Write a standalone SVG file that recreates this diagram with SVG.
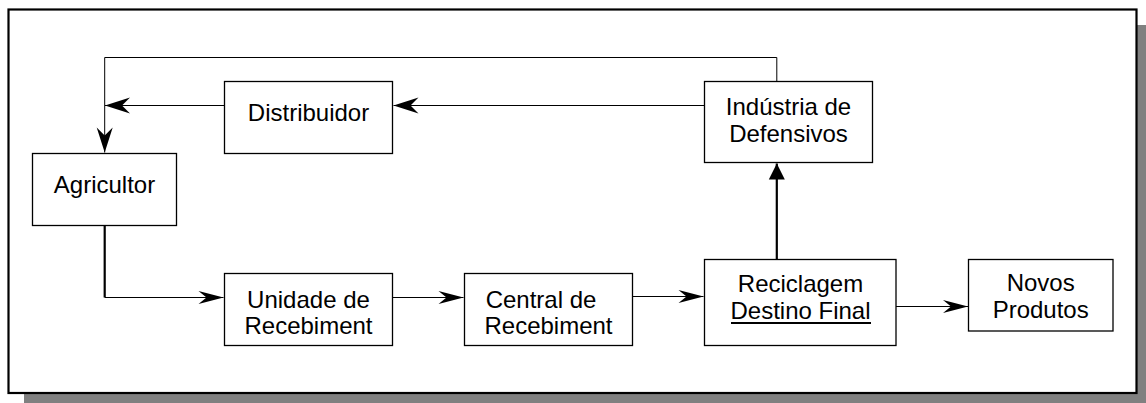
<svg xmlns="http://www.w3.org/2000/svg" width="1146" height="403" viewBox="0 0 1146 403">
<style>
.box{fill:#fff;stroke:#000;stroke-width:1.3}
.t{font-family:"Liberation Sans",Arial,sans-serif;font-size:24px;fill:#000;text-anchor:middle}
.c{fill:none;stroke:#000;stroke-width:1}
.ck{fill:none;stroke:#000;stroke-width:2.2}
</style>
<defs>
<marker id="barbL" markerUnits="userSpaceOnUse" markerWidth="28" markerHeight="20" viewBox="-27 -10 28 20" refX="0" refY="0" orient="auto">
<path d="M0,0 L-25,-8 L-17,0 L-25,8 Z" fill="#000"/>
</marker>
<marker id="barbS" markerUnits="userSpaceOnUse" markerWidth="28" markerHeight="20" viewBox="-27 -10 28 20" refX="0" refY="0" orient="auto">
<path d="M0,0 L-25,-6.5 L-17,0 L-25,6.5 Z" fill="#000"/>
</marker>
<marker id="tri" markerUnits="userSpaceOnUse" markerWidth="20" markerHeight="20" viewBox="-18 -10 20 20" refX="0" refY="0" orient="auto">
<path d="M0,0 L-16,-8 L-16,8 Z" fill="#000"/>
</marker>
</defs>
<g id="frame">
<rect x="24" y="25" width="1122" height="378" fill="#808080"/>
<rect x="8.5" y="9.5" width="1128" height="383.5" fill="#fff" stroke="#000" stroke-width="2.2"/>
</g>
<g id="connectors">
<path class="ck" d="M104.7,225 V297.5"/>
<path class="c" d="M104.7,297.5 H223.5" marker-end="url(#barbS)"/>
<path class="c" d="M393,297.5 H463.5" marker-end="url(#barbS)"/>
<path class="c" d="M632,296.5 H703.5" marker-end="url(#barbS)"/>
<path class="c" d="M896,306.5 H968" marker-end="url(#barbS)"/>
<path class="ck" d="M776.8,259 V163.5" marker-end="url(#tri)"/>
<path class="c" d="M704,105.5 H393.5" marker-end="url(#barbL)"/>
<path class="c" d="M224,105.5 H105" marker-end="url(#barbL)"/>
<path class="c" d="M776.8,81 V57.5 H104.7 V152.5" marker-end="url(#barbL)"/>
</g>
<g id="distribuidor">
<rect class="box" x="224.5" y="81.5" width="168" height="72"/>
<text class="t" x="308.5" y="120.5">Distribuidor</text>
</g>
<g id="agricultor">
<rect class="box" x="32.5" y="153.5" width="144" height="72"/>
<text class="t" x="104.5" y="193.3">Agricultor</text>
</g>
<g id="industria">
<rect class="box" x="704.5" y="81.5" width="168" height="81"/>
<text class="t" x="788.5" y="115">Indústria de</text>
<text class="t" x="788.5" y="141.5">Defensivos</text>
</g>
<g id="unidade">
<rect class="box" x="224.5" y="273.5" width="168" height="72"/>
<text class="t" x="308.5" y="307.5">Unidade de</text>
<text class="t" x="308.5" y="334">Recebiment</text>
</g>
<g id="central">
<rect class="box" x="464.5" y="273.5" width="168" height="72"/>
<text class="t" x="541" y="307.5">Central de</text>
<text class="t" x="548.5" y="334">Recebiment</text>
</g>
<g id="reciclagem">
<rect class="box" x="704.5" y="259.5" width="191.5" height="86"/>
<text class="t" x="800.5" y="291.5">Reciclagem</text>
<text class="t" x="800.5" y="319">Destino Final</text>
<line x1="731" y1="323" x2="871" y2="323" stroke="#000" stroke-width="2"/>
</g>
<g id="novos">
<rect class="box" x="968.5" y="259.5" width="144.5" height="71.5"/>
<text class="t" x="1040.7" y="291">Novos</text>
<text class="t" x="1040.7" y="318.3">Produtos</text>
</g>
</svg>
